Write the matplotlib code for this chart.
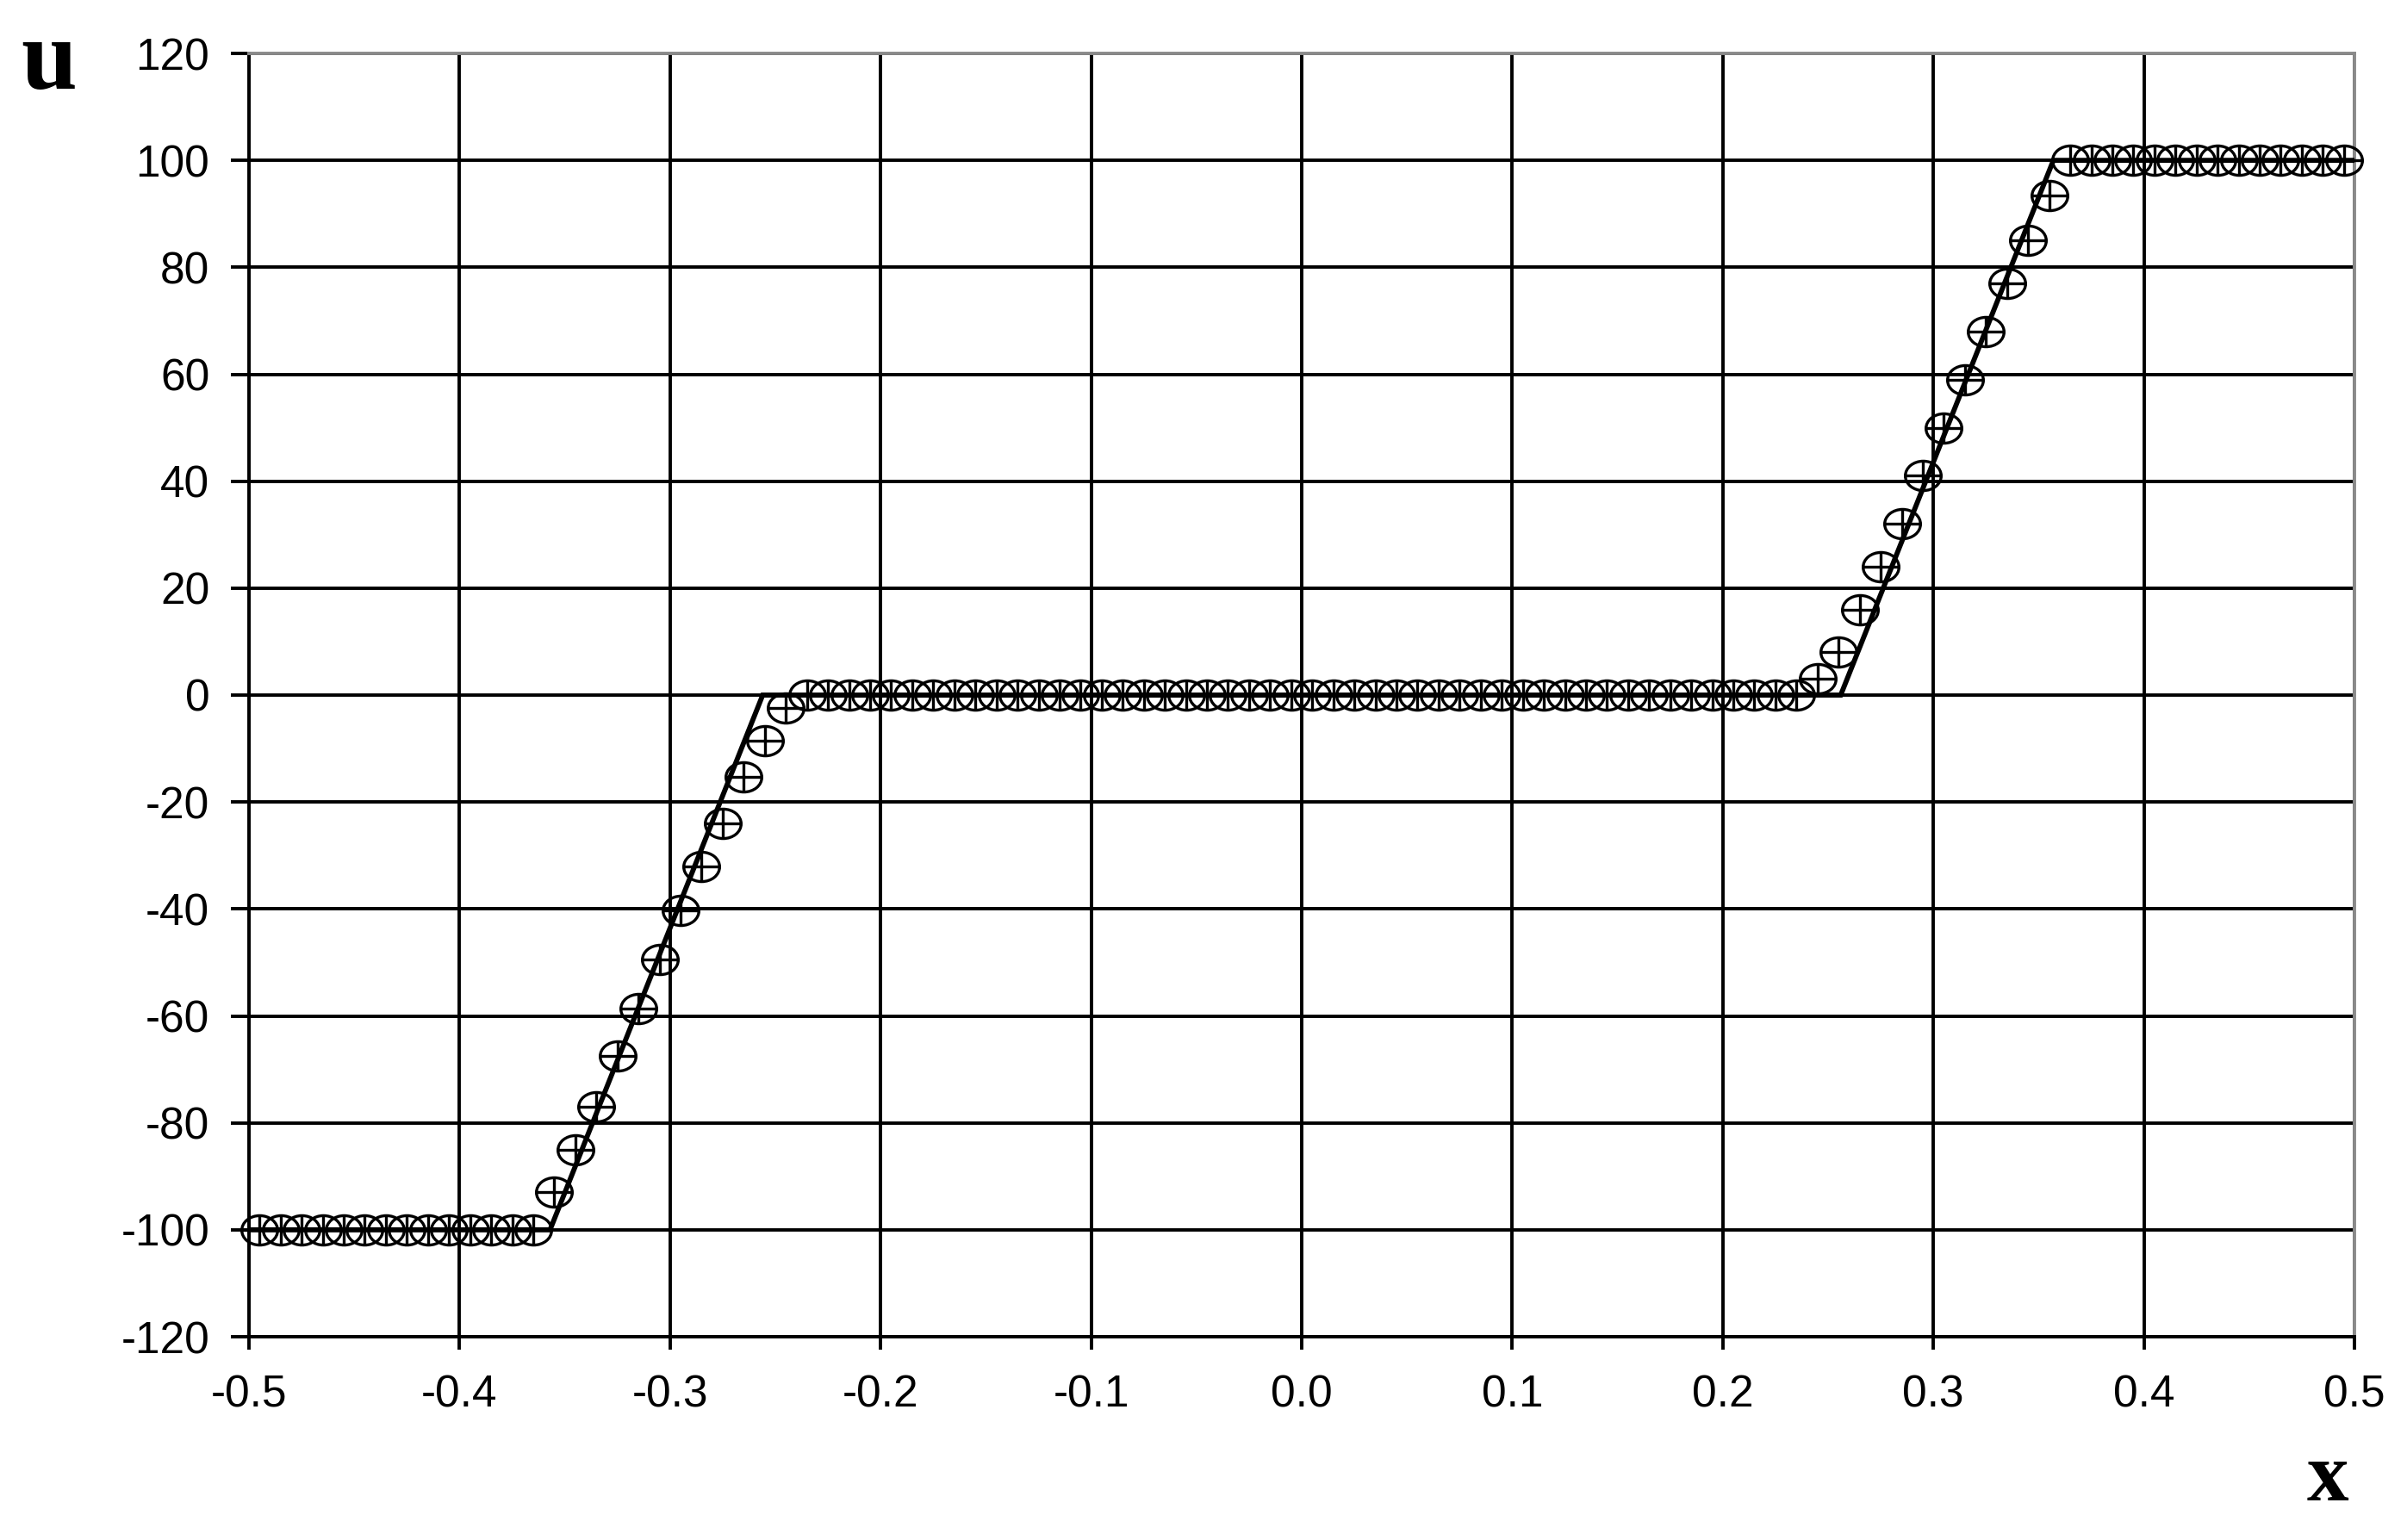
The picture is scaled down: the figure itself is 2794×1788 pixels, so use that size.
import numpy as np
import matplotlib
matplotlib.use('Agg')
import matplotlib.pyplot as plt
from matplotlib.path import Path
from matplotlib.transforms import Affine2D
from matplotlib.ticker import FormatStrFormatter

# ---------------------------------------------------------------------------
# data

# exact solution (solid line), corner points
x_exact = [-0.5, -0.357, -0.256, 0.256, 0.357, 0.5]
u_exact = [-100.0, -100.0, 0.0, 0.0, 100.0, 100.0]

# numerical solution at cell centres (circle-plus markers)
x_num = [-0.495, -0.485, -0.475, -0.465, -0.455, -0.445, -0.435, -0.425, -0.415, -0.405,
         -0.395, -0.385, -0.375, -0.365, -0.355, -0.345, -0.335, -0.325, -0.315, -0.305,
         -0.295, -0.285, -0.275, -0.265, -0.255, -0.245, -0.235, -0.225, -0.215, -0.205,
         -0.195, -0.185, -0.175, -0.165, -0.155, -0.145, -0.135, -0.125, -0.115, -0.105,
         -0.095, -0.085, -0.075, -0.065, -0.055, -0.045, -0.035, -0.025, -0.015, -0.005,
         0.005, 0.015, 0.025, 0.035, 0.045, 0.055, 0.065, 0.075, 0.085, 0.095,
         0.105, 0.115, 0.125, 0.135, 0.145, 0.155, 0.165, 0.175, 0.185, 0.195,
         0.205, 0.215, 0.225, 0.235, 0.245, 0.255, 0.265, 0.275, 0.285, 0.295,
         0.305, 0.315, 0.325, 0.335, 0.345, 0.355, 0.365, 0.375, 0.385, 0.395,
         0.405, 0.415, 0.425, 0.435, 0.445, 0.455, 0.465, 0.475, 0.485, 0.495]

u_left_plateau = [-100.0] * 14
u_left_ramp = [-93.0, -85.0, -77.0, -67.5, -58.6, -49.5, -40.3, -32.0, -24.0, -15.3, -8.5, -2.4]
u_middle = [0.0] * 48
u_right_ramp = [3.0, 8.0, 16.0, 24.0, 32.0, 41.0, 50.0, 59.0, 68.0, 77.0, 85.0, 93.5]
u_right_plateau = [100.0] * 14
u_num = u_left_plateau + u_left_ramp + u_middle + u_right_ramp + u_right_plateau

x_ticks = [-0.5, -0.4, -0.3, -0.2, -0.1, 0.0, 0.1, 0.2, 0.3, 0.4, 0.5]
y_ticks = [-120, -100, -80, -60, -40, -20, 0, 20, 40, 60, 80, 100, 120]

# ---------------------------------------------------------------------------
# marker: ellipse with a plus inside
ry = 0.82
ellipse = Path.unit_circle().transformed(Affine2D().scale(1.0, ry))
hbar = Path([[-1.0, 0.0], [1.0, 0.0]], [Path.MOVETO, Path.LINETO])
vbar = Path([[0.0, -ry], [0.0, ry]], [Path.MOVETO, Path.LINETO])
oplus = Path.make_compound_path(ellipse, hbar, vbar)

plt.rcParams['axes.unicode_minus'] = False
plt.rcParams['font.family'] = ['Liberation Sans', 'DejaVu Sans']

W, H = 2794, 1788
fig = plt.figure(figsize=(W / 100, H / 100), dpi=100)
ax = fig.add_axes([289 / W, (H - 1552) / H, (2733 - 289) / W, (1552 - 62) / H])

ax.plot(x_exact, u_exact, color='black', lw=4.2, zorder=3, solid_joinstyle='miter')
ax.plot(x_num, u_num, ls='none', marker=oplus, ms=30, mfc='none', mec='black',
        mew=2.4, zorder=4, clip_on=False)

ax.set_xlim(-0.5, 0.5)
ax.set_ylim(-120, 120)
ax.set_xticks(x_ticks)
ax.set_yticks(y_ticks)
ax.xaxis.set_major_formatter(FormatStrFormatter('%.1f'))

ax.set_axisbelow(True)
ax.grid(True, color='black', lw=2.8)

for side in ['left', 'bottom']:
    ax.spines[side].set_color('black')
    ax.spines[side].set_linewidth(2.8)
for side in ['top', 'right']:
    ax.spines[side].set_color('#8a8a8a')
    ax.spines[side].set_linewidth(2.8)

ax.tick_params(axis='y', direction='out', length=15, width=2.8, pad=18,
               labelsize=37, colors='black')
ax.tick_params(axis='x', direction='out', length=11, width=2.8, pad=20,
               labelsize=37, colors='black')

# axis letters
fig.text(24 / W, 1 - 103 / H, 'u', family='Liberation Serif', weight='bold',
         fontsize=84, ha='left', va='baseline')
fig.text(2678 / W, 1 - 1742 / H, 'x', family='Liberation Serif', weight='bold',
         fontsize=70, ha='left', va='baseline')

fig.savefig('out.png', dpi=100, facecolor='white')
